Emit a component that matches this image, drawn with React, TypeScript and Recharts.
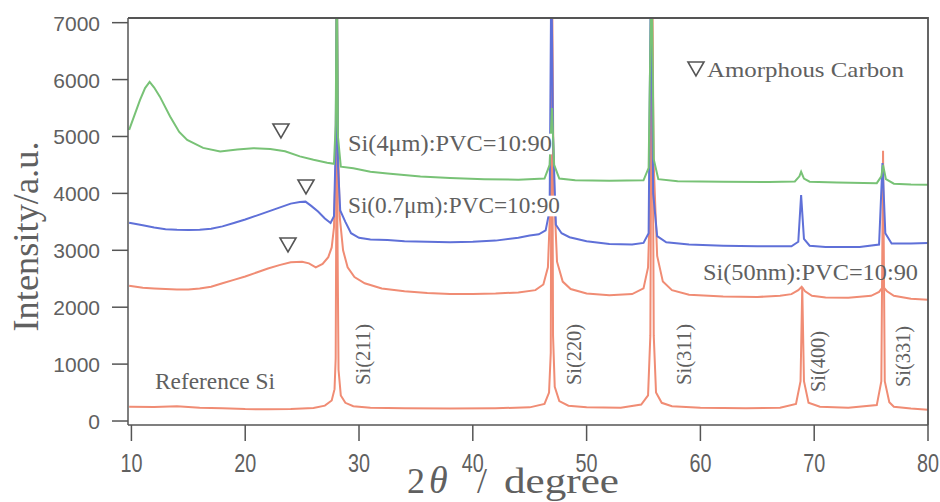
import { LineChart, Line, XAxis, YAxis, ReferenceDot } from 'recharts';

// 2θ positions (degree) and intensities (a.u.)
const refX = [9.8, 12, 14, 16, 18, 20, 22, 24, 26, 27, 27.6, 27.85, 27.95, 28.0, 28.05, 28.1, 28.2, 28.4, 28.8, 29.5, 31, 34, 38, 42, 45, 46.3, 46.7, 46.85, 46.95, 47.05, 47.2, 47.6, 48.4, 50, 53, 54.8, 55.4, 55.6, 55.75, 55.9, 56.1, 56.6, 57.5, 60, 64, 67, 68.4, 68.8, 68.95, 69.1, 69.5, 70.5, 73, 75.5, 75.9, 76.05, 76.2, 76.6, 77, 78.5, 80];
const refY = [250, 245, 260, 235, 225, 210, 205, 210, 230, 270, 360, 560, 1100, 3500, 8000, 3500, 900, 450, 320, 260, 235, 225, 220, 225, 240, 300, 500, 1200, 8000, 1500, 600, 350, 270, 240, 235, 290, 450, 1500, 8000, 1500, 500, 320, 260, 235, 225, 235, 300, 700, 2350, 700, 320, 250, 235, 280, 700, 4750, 700, 330, 250, 220, 200];

const s50X = [9.8, 11, 12, 13, 14, 15, 16, 17, 18, 19, 20, 21, 22, 23, 24, 25, 25.6, 26.2, 26.8, 27.3, 27.6, 27.8, 27.95, 28.05, 28.15, 28.3, 28.6, 29, 29.6, 30.5, 32, 34, 36, 38, 40, 42, 44, 45.5, 46.2, 46.6, 46.85, 46.95, 47.1, 47.4, 47.9, 48.6, 50, 52, 54, 55, 55.4, 55.6, 55.75, 55.9, 56.2, 56.7, 57.5, 59, 62, 65, 67, 68, 68.6, 68.9, 69.2, 69.8, 71, 73, 75, 75.7, 76.05, 76.4, 77, 78.5, 80];
const s50Y = [2375, 2340, 2330, 2320, 2310, 2310, 2330, 2360, 2420, 2480, 2540, 2610, 2680, 2740, 2790, 2800, 2770, 2700, 2760, 2880, 3050, 3400, 4500, 8000, 5000, 3600, 3000, 2700, 2530, 2420, 2330, 2280, 2250, 2230, 2230, 2240, 2260, 2300, 2400, 2700, 4000, 8000, 4200, 2800, 2450, 2320, 2240, 2210, 2230, 2330, 2700, 4000, 8000, 4500, 2900, 2450, 2300, 2220, 2190, 2180, 2200, 2230, 2300, 2360, 2280, 2200, 2170, 2165, 2200, 2270, 2360, 2280, 2200, 2150, 2130];

const s07X = [9.8, 11, 12, 13, 14, 15, 16, 17, 18, 19, 20, 21, 22, 23, 24, 24.8, 25.3, 25.8, 26.4, 27, 27.5, 27.8, 27.95, 28.05, 28.15, 28.35, 28.8, 29.3, 30, 31, 32.5, 34, 36, 38, 40, 42, 44, 45, 45.8, 46.4, 46.75, 46.9, 47.05, 47.3, 47.8, 48.5, 50, 52, 54, 55, 55.45, 55.65, 55.85, 56.2, 57, 59, 62, 65, 68, 68.6, 68.85, 69.1, 69.6, 71, 74, 75.7, 76.0, 76.25, 76.8, 78.5, 80];
const s07Y = [3485, 3440, 3400, 3370, 3360, 3355, 3360, 3380, 3420, 3480, 3540, 3610, 3680, 3750, 3820, 3850, 3855, 3780, 3680, 3560, 3480, 3600, 4800, 8000, 4500, 3700, 3500, 3300, 3220, 3190, 3180, 3160, 3150, 3140, 3150, 3170, 3220, 3260, 3280, 3350, 3700, 8000, 5000, 3450, 3300, 3230, 3160, 3110, 3100, 3130, 3300, 8000, 4000, 3250, 3140, 3100, 3080, 3070, 3070, 3150, 3970, 3200, 3080, 3060, 3060, 3100, 4535, 3300, 3120, 3120, 3130];

const s4X = [9.8, 10.75, 11.2, 11.6, 12.0, 12.5, 13.4, 14.2, 14.9, 16.3, 17.8, 19.3, 20.7, 22.2, 23.5, 24.8, 26, 27.2, 27.8, 27.95, 28.05, 28.15, 28.4, 29.5, 31, 32.5, 35.4, 38, 41, 44, 46.3, 46.75, 46.95, 47.15, 47.6, 49, 52, 55, 55.45, 55.7, 55.9, 56.3, 58, 62, 66, 68.3, 68.7, 68.85, 69.1, 69.6, 72, 75.5, 75.9, 76.05, 76.3, 77, 78.5, 80];
const s4Y = [5115, 5640, 5850, 5960, 5860, 5700, 5350, 5080, 4940, 4800, 4735, 4770, 4795, 4780, 4740, 4650, 4590, 4540, 4520, 5200, 8000, 5000, 4470, 4440, 4380, 4350, 4295, 4270, 4250, 4240, 4260, 4500, 5500, 4500, 4260, 4230, 4220, 4230, 4450, 8000, 4600, 4250, 4215, 4205, 4200, 4210, 4300, 4380, 4260, 4205, 4190, 4180, 4300, 4500, 4250, 4170, 4155, 4150];

const xTicks = [10, 20, 30, 40, 50, 60, 70, 80];
const yTicks = [0, 1000, 2000, 3000, 4000, 5000, 6000, 7000];

const X_DOMAIN: [number, number] = [9.7, 80];
const Y_DOMAIN: [number, number] = [-70, 7082];

const toPoints = (xs: number[], ys: number[]) => xs.map((x, i) => ({ x, y: ys[i] }));

const refData = toPoints(refX, refY);
const s50Data = toPoints(s50X, s50Y);
const s07Data = toPoints(s07X, s07Y);
const s4Data = toPoints(s4X, s4Y);

// sample labels (x, y in data units = text baseline start)
const labels = [
  { x: 29.03, y: 4745, text: 'Si(4μm):PVC=10:90', size: 24, len: 204, anchor: 'start', bg: true },
  { x: 29.03, y: 3656, text: 'Si(0.7μm):PVC=10:90', size: 24, len: 212, anchor: 'start', bg: true },
  { x: 79.12, y: 2478, text: 'Si(50nm):PVC=10:90', size: 23, len: 215, anchor: 'end', bg: false },
  { x: 12.07, y: 563, text: 'Reference Si', size: 23, len: 120, anchor: 'start', bg: false },
  { x: 60.58, y: 6046, text: 'Amorphous Carbon', size: 22, len: 197, anchor: 'start', bg: false },
];

const peakLabels = [
  { x: 30.97, y: 633, text: 'Si(211)' },
  { x: 49.5, y: 633, text: 'Si(220)' },
  { x: 59.17, y: 633, text: 'Si(311)' },
  { x: 70.95, y: 510, text: 'Si(400)' },
  { x: 78.42, y: 598, text: 'Si(331)' },
];

const markers = [
  { x: 23.14, y: 5097 },
  { x: 25.34, y: 4113 },
  { x: 23.76, y: 3093 },
  { x: 59.61, y: 6187 },
];

const CHART_W = 940;
const CHART_H = 502;
const MARGIN = { top: 18, right: 12, left: 0, bottom: 0 };
const Y_AXIS_W = 128;
const X_AXIS_H = 77;
const PLOT_W = CHART_W - MARGIN.left - MARGIN.right - Y_AXIS_W;

const GREEN = '#78c276';
const BLUE = '#5f70d8';
const ORANGE = '#f08c74';
const AXIS = '#555555';
const TEXT = '#606060';
const SERIF = '"Liberation Serif", "Times New Roman", serif';
const SANS = '"Liberation Sans", Arial, sans-serif';

const XTick = (props: any) => {
  const { x, y, payload } = props;
  return (
    <text x={x} y={y} dy={31} textAnchor="middle" fontFamily={SANS} fontSize={25}
      textLength={22} lengthAdjust="spacingAndGlyphs" fill={TEXT}>
      {payload.value}
    </text>
  );
};

const YTick = (props: any) => {
  const { x, y, payload } = props;
  return (
    <text x={x} y={y} dy={8} textAnchor="end" fontFamily={SANS} fontSize={21} fill={TEXT}>
      {payload.value}
    </text>
  );
};

const XLabel = (props: any) => {
  const vb = props.viewBox;
  const left = vb.x + vb.width / 2 - 121;
  const base = vb.y + 68;
  return (
    <g fill={TEXT} fontFamily={SERIF}>
      <text x={left} y={base} fontSize={36}>2</text>
      <text x={left + 22} y={base} fontSize={38} fontStyle="italic">θ</text>
      <text x={left + 70} y={base} fontSize={36}>/</text>
      <text x={left + 97} y={base} fontSize={36} textLength={115} lengthAdjust="spacingAndGlyphs">degree</text>
    </g>
  );
};

// y-axis title, plus the top and right edges of the plot box (drawn from the axis viewBox)
const YLabel = (props: any) => {
  const vb = props.viewBox;
  const cx = vb.x + 38;
  const cy = vb.y + vb.height / 2 + 15;
  const left = vb.x + vb.width;
  return (
    <g>
      <path d={`M${left},${vb.y} H${left + PLOT_W} V${vb.y + vb.height}`}
        fill="none" stroke={AXIS} strokeWidth={1.8} />
      <text x={cx} y={cy} transform={`rotate(-90 ${cx} ${cy})`} textAnchor="middle"
        fontFamily={SERIF} fontSize={36} textLength={190} lengthAdjust="spacingAndGlyphs" fill={TEXT}>
        Intensity/a.u.
      </text>
    </g>
  );
};

export default function App() {
  return (
    <div style={{ position: 'absolute', left: 0, top: 0, background: '#fff' }}>
      <LineChart width={CHART_W} height={CHART_H} margin={MARGIN}>
        <XAxis dataKey="x" type="number" domain={X_DOMAIN} ticks={xTicks} allowDataOverflow
          height={X_AXIS_H} stroke={AXIS} strokeWidth={1.5} tickSize={16} tickMargin={0}
          tick={<XTick />} label={<XLabel />} />
        <YAxis type="number" domain={Y_DOMAIN} ticks={yTicks} allowDataOverflow width={Y_AXIS_W}
          stroke={AXIS} strokeWidth={1.5} tickSize={16} tickMargin={12}
          tick={<YTick />} label={<YLabel />} />

        <Line data={refData} dataKey="y" stroke={ORANGE} strokeWidth={2} dot={false} isAnimationActive={false} />
        <Line data={s50Data} dataKey="y" stroke={ORANGE} strokeWidth={2} dot={false} isAnimationActive={false} />
        <Line data={s07Data} dataKey="y" stroke={BLUE} strokeWidth={2} dot={false} isAnimationActive={false} />
        <Line data={s4Data} dataKey="y" stroke={GREEN} strokeWidth={2} dot={false} isAnimationActive={false} />

        {labels.map((l) => (
          <ReferenceDot key={l.text} x={l.x} y={l.y} r={0} ifOverflow="visible"
            shape={(p: any) => (
              <g>
                {l.bg && (
                  <rect x={l.anchor === 'end' ? p.cx - l.len : p.cx} y={p.cy - l.size * 0.72}
                    width={l.len} height={l.size * 0.86} fill="#fff" />
                )}
                <text x={p.cx} y={p.cy} textAnchor={l.anchor as any} fontFamily={SERIF}
                  fontSize={l.size} textLength={l.len} lengthAdjust="spacingAndGlyphs" fill={TEXT}>
                  {l.text}
                </text>
              </g>
            )} />
        ))}
        {peakLabels.map((l) => (
          <ReferenceDot key={l.text} x={l.x} y={l.y} r={0} ifOverflow="visible"
            shape={(p: any) => (
              <text x={p.cx} y={p.cy} transform={`rotate(-90 ${p.cx} ${p.cy})`} fontFamily={SERIF}
                fontSize={21} textLength={61} lengthAdjust="spacingAndGlyphs" fill={TEXT}>
                {l.text}
              </text>
            )} />
        ))}
        {markers.map((m, i) => (
          <ReferenceDot key={i} x={m.x} y={m.y} r={0} ifOverflow="visible"
            shape={(p: any) => (
              <polygon points={`${p.cx - 8},${p.cy - 7} ${p.cx + 8},${p.cy - 7} ${p.cx},${p.cy + 7}`}
                fill="#fff" stroke={AXIS} strokeWidth={1.6} />
            )} />
        ))}
      </LineChart>
    </div>
  );
}
